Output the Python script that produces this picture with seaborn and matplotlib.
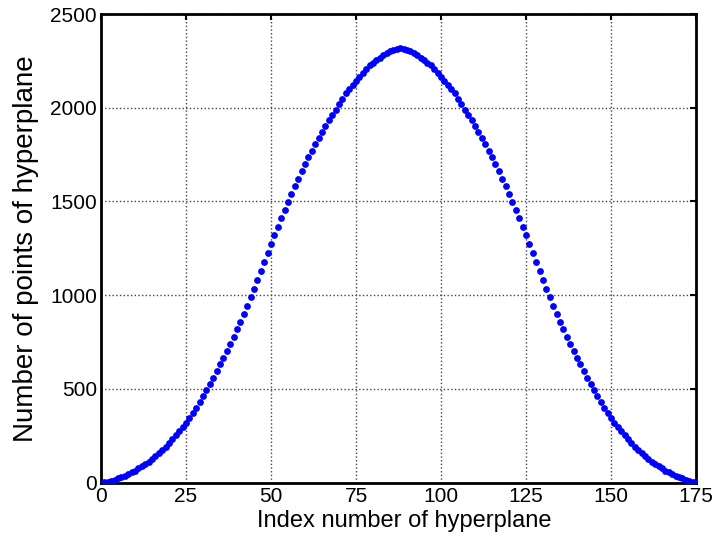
import pandas as pd
import seaborn as sns
import matplotlib.pyplot as plt

# index of each hyperplane (1..175)
index = list(range(1, 176))

# number of points: rising side up to the peak at index 88
rising = [2, 5, 10, 16, 22, 29, 37, 45, 54, 64,
          75, 86, 98, 111, 125, 140, 156, 173, 191, 210,
          230, 251, 273, 296, 320, 345, 372, 400, 430, 461,
          493, 526, 560, 595, 631, 667, 703, 741, 779, 818,
          858, 901, 944, 988, 1032, 1079, 1128, 1176, 1225, 1274,
          1320, 1366, 1413, 1456, 1497, 1539, 1581, 1621, 1661, 1699,
          1736, 1771, 1806, 1839, 1872, 1903, 1933, 1962, 1988, 2019,
          2049, 2076, 2100, 2122, 2143, 2166, 2187, 2208, 2226, 2238,
          2254, 2268, 2281, 2292, 2301, 2309, 2315, 2318]
# falling side, index 89..175
falling = [2315, 2309, 2301, 2292, 2281, 2268, 2254, 2238, 2226, 2208,
           2187, 2166, 2143, 2122, 2100, 2076, 2049, 2019, 1988, 1962,
           1933, 1903, 1872, 1839, 1806, 1771, 1736, 1699, 1661, 1621,
           1581, 1539, 1497, 1456, 1413, 1366, 1320, 1274, 1225, 1176,
           1128, 1079, 1032, 988, 944, 901, 858, 818, 779, 741,
           703, 667, 631, 595, 560, 526, 493, 461, 430, 400,
           372, 345, 320, 296, 273, 251, 230, 210, 191, 173,
           156, 140, 125, 111, 98, 86, 75, 64, 54, 45,
           37, 29, 22, 16, 10, 5, 2]

xticks = [0, 25, 50, 75, 100, 125, 150, 175]
yticks = [0, 500, 1000, 1500, 2000, 2500]

df = pd.DataFrame({'index': index, 'points': rising + falling})

sns.set_theme(style='white')
plt.rcParams['font.family'] = ['Liberation Sans', 'DejaVu Sans']

fig = plt.figure(figsize=(7.17, 5.5), dpi=100)
ax = fig.add_axes([0.1409, 0.1227, 0.8298, 0.8518])

sns.scatterplot(data=df, x='index', y='points', ax=ax, color='#0000ff',
                s=24, linewidth=0, zorder=3)

ax.set_xlim(0, 175)
ax.set_ylim(0, 2500)
ax.set_xticks(xticks)
ax.set_yticks(yticks)
ax.grid(True, linestyle=':', color='#444444', linewidth=1)
ax.set_axisbelow(True)

for sp in ax.spines.values():
    sp.set_color('black')
    sp.set_linewidth(2)
    sp.set_visible(True)

ax.tick_params(direction='in', length=4, width=1.5, colors='black',
               labelsize=15, top=True, right=True, pad=3)
ax.set_xlabel('Index number of hyperplane', fontsize=17, color='black', labelpad=3)
ax.set_ylabel('Number of points of hyperplane', fontsize=20, color='black', labelpad=8)
ax.xaxis.label.set_x(0.51)

fig.savefig('out.png', dpi=100, facecolor='white')
